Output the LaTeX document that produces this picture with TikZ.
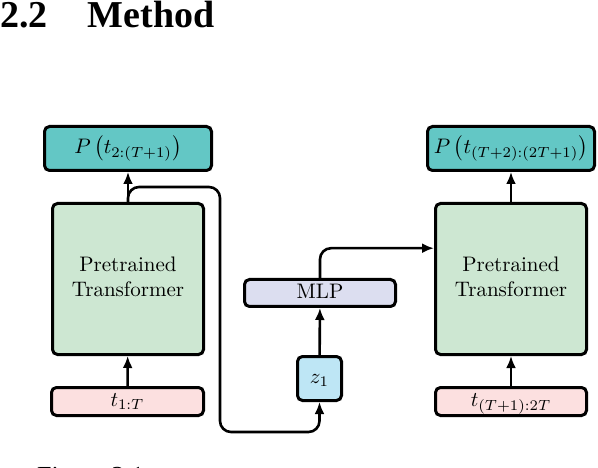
\documentclass[tikz,border=0pt]{standalone}
\usepackage{fontspec}
\usepackage{graphicx}
\newfontfamily\timesfont{Liberation Serif}
\usetikzlibrary{arrows.meta,calc}
\definecolor{pcol}{RGB}{99,199,197}
\definecolor{tfcol}{RGB}{205,231,210}
\definecolor{incol}{RGB}{252,224,224}
\definecolor{mlpcol}{RGB}{220,222,240}
\definecolor{zcol}{RGB}{190,230,245}
\newcommand{\bigtxt}[1]{\scalebox{2.1}{\setlength{\tabcolsep}{0pt}\begin{tabular}{c}#1\end{tabular}}}
\tikzset{
  box/.style={draw, line width=3pt, rounded corners=5pt, inner sep=0pt, align=center},
  conn/.style={line width=2.6pt, -{Latex[length=12pt,width=10pt]}},
}
\begin{document}
\begin{tikzpicture}[x=1pt,y=-1pt]
\useasboundingbox (0,0) rectangle (598,468);
\fill[white] (0,0) rectangle (598,468);
% heading
\node[anchor=base west, inner sep=0pt, font=\timesfont\fontsize{38}{40}\selectfont\bfseries] (head) at (0,28) {2.2\hspace{40pt}Method};
% left column
\node[box, fill=pcol, minimum width=167pt, minimum height=44pt] (pl) at (128,148.5) {\bigtxt{$P\left(t_{2:(T+1)}\right)$}};
\node[box, fill=tfcol, minimum width=151pt, minimum height=151pt] (tfl) at (128,279) {\bigtxt{Pretrained\\Transformer}};
\node[box, fill=incol, minimum width=152pt, minimum height=28pt] (tl) at (127.5,401.5) {\bigtxt{$t_{1:T}$}};
% middle
\node[box, fill=zcol, minimum width=44pt, minimum height=44pt] (z) at (319.5,378.5) {\bigtxt{$z_1$}};
\node[box, fill=mlpcol, minimum width=151pt, minimum height=27pt] (mlp) at (320,293) {\bigtxt{MLP}};
% right column
\node[box, fill=pcol, minimum width=167pt, minimum height=44pt] (pr) at (511,148.5) {\bigtxt{$P\left(t_{(T+2):(2T+1)}\right)$}};
\node[box, fill=tfcol, minimum width=151pt, minimum height=151pt] (tfr) at (511,279) {\bigtxt{Pretrained\\Transformer}};
\node[box, fill=incol, minimum width=151pt, minimum height=28pt] (tr) at (511,401.5) {\bigtxt{$t_{(T+1):2T}$}};
% coordinates for routing
\coordinate (c1) at (220,187);
\coordinate (c2) at (220,432);
\coordinate (c3) at ($(tfr.north west)!0.3!(tfr.south west)$);
% connectors
\draw[conn] (tl) -- (tfl);
\draw[conn] (tfl) -- (pl);
\draw[conn] (tr) -- (tfr);
\draw[conn] (tfr) -- (pr);
\draw[conn] (z) -- (mlp);
\draw[conn, rounded corners=11pt] (tfl.north) |- (c1) -- (c2) -| (z.south);
\draw[conn, rounded corners=11pt] (mlp.north) |- (c3);
% caption (cut off at the lower edge)
\begin{scope}
\clip (0,0) rectangle (598,468);
\node[anchor=base west, inner sep=0pt, font=\timesfont\fontsize{26}{30}\selectfont] (cap) at (37,484) {Figure 2.1:};
\end{scope}
\end{tikzpicture}
\end{document}
